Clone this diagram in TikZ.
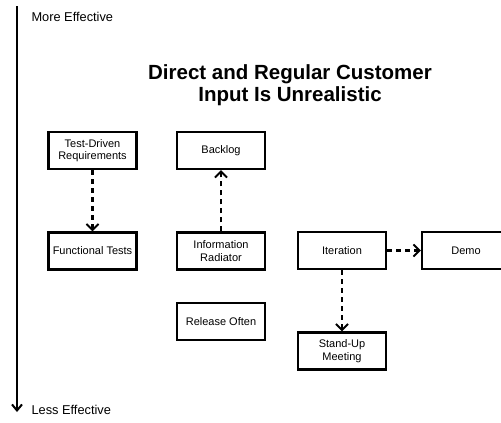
\documentclass[tikz,border=0pt]{standalone}
\usepackage{fontspec}
\setmainfont{Liberation Sans}
\usetikzlibrary{calc,arrows.meta}

\begin{document}
\begin{tikzpicture}[x=1pt,y=-1pt]
% Pixel-like coordinates, y grows downward.
\useasboundingbox (0,0) rectangle (501,423);

% These set how the boxes and links look.
\tikzstyle{practice}=[draw,line width=2.2pt,minimum width=88pt,minimum height=37pt,
inner sep=1pt,align=center,font=\fontsize{11}{12.5}\selectfont]
\tikzstyle{link}=[line width=2.2pt,dash pattern=on 5pt off 4pt,
-{Straight Barb[length=6pt,width=12pt,line width=2pt]}]

% This draws the effectiveness axis.
\coordinate (top) at (17,6);
\coordinate (bottom) at (17,412);
\draw[line width=2pt,-{Straight Barb[length=6pt,width=10pt,line width=2pt]}] (top) -- (bottom);
\node[anchor=west,font=\fontsize{12.8}{14}\selectfont] (more) at (28,17) {More Effective};
\node[anchor=west,font=\fontsize{12.8}{14}\selectfont] (less) at (28,410) {Less Effective};

% This draws the title.
\node[align=center,font=\bfseries\fontsize{20.5}{22}\selectfont] (title) at (290,85)
{Direct and Regular Customer\\Input Is Unrealistic};

% This draws the practices.
\node[practice] (tdr) at (92.5,150.5) {Test-Driven\\Requirements};
\node[practice] (backlog) at (221,150.5) {Backlog};
\node[practice] (ft) at (92.5,251) {Functional Tests};
\node[practice] (ir) at (221,251) {Information\\Radiator};
\node[practice] (iter) at (342,250.5) {Iteration};
\node[practice] (demo) at (466,250.5) {Demo};
\node[practice] (release) at (221,321.5) {Release Often};
\node[practice] (standup) at (342,351) {Stand-Up\\Meeting};

% This draws the links between them.
\draw[link] (tdr) -- (ft);
\draw[link] (ir) -- (backlog);
\draw[link] (iter) -- (demo);
\draw[link] (iter) -- (standup);
\end{tikzpicture}
\end{document}
